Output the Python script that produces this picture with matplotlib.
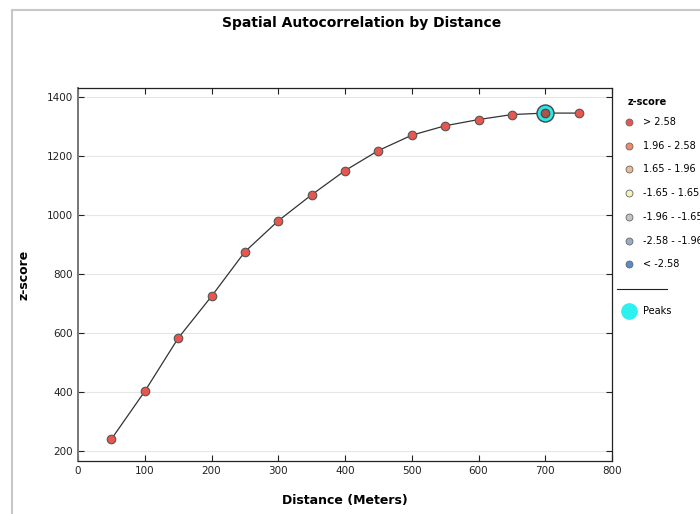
import matplotlib
matplotlib.use("Agg")
import matplotlib.pyplot as plt
from matplotlib.lines import Line2D
from matplotlib.patches import Rectangle

# data
distance = [50, 100, 150, 200, 250, 300, 350, 400, 450, 500, 550, 600, 650, 700, 750]
zscore = [240, 402, 582, 724, 875, 980, 1068, 1150, 1218, 1270, 1302, 1323, 1340, 1345, 1345]
peak_distance = [700]
peak_zscore = [1345]

legend_labels = ["> 2.58", "1.96 - 2.58", "1.65 - 1.96", "-1.65 - 1.65",
                 "-1.96 - -1.65", "-2.58 - -1.96", "< -2.58"]
legend_colors = ["#e8564e", "#ef8a6c", "#f4b88e", "#f7f3b8",
                 "#c4c4c4", "#98aec6", "#5a8ccc"]

W, H = 700, 514


def plot(fig, ax):
    ax.plot(distance, zscore, color="#333333", lw=0.9, zorder=2)
    ax.scatter(distance, zscore, s=38, color=legend_colors[0],
               edgecolor="#555555", linewidth=0.8, zorder=3)
    ax.scatter(peak_distance, peak_zscore, s=150, color="#2ee6e6",
               edgecolor="#444444", linewidth=1.0, zorder=4)
    ax.scatter(peak_distance, peak_zscore, s=38, color="#a8554e",
               edgecolor="#444444", linewidth=0.8, zorder=5)

    ax.set_xlim(0, 800)
    ax.set_ylim(166, 1430)
    ax.set_xticks(range(0, 801, 100))
    ax.set_yticks(range(200, 1401, 200))
    ax.tick_params(direction="in", top=True, right=True, labelsize=7.5,
                   length=4, width=0.8, colors="#222222")
    ax.grid(axis="y", color="#e6e6e6", lw=0.8)
    ax.set_axisbelow(True)
    for s in ax.spines.values():
        s.set_color("#222222")
        s.set_linewidth(0.9)
    ax.spines["left"].set_color("#777777")
    ax.spines["left"].set_linewidth(1.4)

    ax.set_xlabel("Distance (Meters)", fontsize=9, fontweight="bold", labelpad=13)
    ax.set_ylabel("z-score", fontsize=9, fontweight="bold", labelpad=12)
    fig.text(362 / W, 1 - 23 / H, "Spatial Autocorrelation by Distance",
             fontsize=10, fontweight="bold", ha="center", va="center")

    # outer frame
    fig.add_artist(Rectangle((12 / W, -0.1), 1.2, 1 - 10 / H + 0.1,
                             transform=fig.transFigure, fill=False,
                             edgecolor="#c8c8c8", lw=1.5))

    # legend drawn by hand
    fig.text(628 / W, 1 - 102 / H, "z-score", fontsize=7, fontweight="bold",
             va="center")
    for i, (lab, col) in enumerate(zip(legend_labels, legend_colors)):
        y = 1 - (122 + i * 23.7) / H
        fig.add_artist(Line2D([629 / W], [y], marker="o", markersize=5,
                              markerfacecolor=col, markeredgecolor="#666666",
                              markeredgewidth=0.6, transform=fig.transFigure))
        fig.text(643 / W, y, lab, fontsize=7, va="center")
    fig.add_artist(Line2D([617 / W, 667 / W], [1 - 289 / H] * 2, color="#222222",
                          lw=0.8, transform=fig.transFigure))
    fig.add_artist(Line2D([629 / W], [1 - 311 / H], marker="o", markersize=11,
                          markerfacecolor="#2ef0f0", markeredgecolor="#2ef0f0",
                          transform=fig.transFigure))
    fig.text(643 / W, 1 - 311 / H, "Peaks", fontsize=7, va="center")


def main():
    fig = plt.figure(figsize=(7, 5.14), dpi=100)
    ax = fig.add_axes([78 / W, 1 - 461 / H, (612 - 78) / W, (461 - 88) / H])
    plot(fig, ax)
    fig.savefig("out.png", dpi=100)


if __name__ == "__main__":
    main()
